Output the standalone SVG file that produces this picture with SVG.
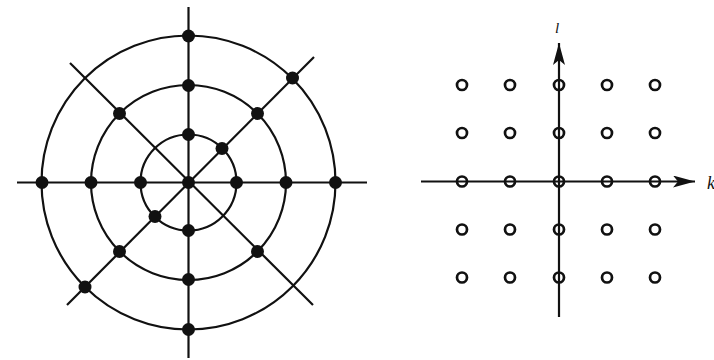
<svg xmlns="http://www.w3.org/2000/svg" width="714" height="360" viewBox="0 0 714 360">
<defs>
<style>
.ln{stroke:#111;stroke-width:2.2;fill:none}
.ring{stroke:#111;stroke-width:2.2;fill:none}
.dot{fill:#111}
.oc{fill:none;stroke:#111;stroke-width:2.7}
.lab{font-family:"Liberation Serif",serif;font-style:italic;fill:#111}
</style>
<marker id="ah" markerWidth="24" markerHeight="12" refX="22" refY="6" orient="auto" markerUnits="userSpaceOnUse" viewBox="0 0 24 12">
<path d="M0,0 L22,6 L0,12 L5,6 Z" fill="#111"/>
</marker>
</defs>
<rect width="714" height="360" fill="#fff"/>
<g id="connectors">
<line class="ln" x1="17" y1="182.5" x2="367" y2="182.5"/>
<line class="ln" x1="188.5" y1="7" x2="188.5" y2="358"/>
<line class="ln" x1="314" y1="57" x2="67" y2="305"/>
<line class="ln" x1="70" y1="63" x2="313" y2="305"/>
<line class="ln" x1="421" y1="181.5" x2="695" y2="181.5" marker-end="url(#ah)"/>
<line class="ln" x1="559" y1="317" x2="559" y2="43" marker-end="url(#ah)"/>
</g>
<g id="rings">
<circle class="ring" cx="188.5" cy="182.5" r="48"/>
<circle class="ring" cx="188.5" cy="182.5" r="97.5"/>
<circle class="ring" cx="188.5" cy="182.5" r="147"/>
</g>
<g id="polar-samples">
<circle class="dot" cx="188.5" cy="182.5" r="6.5"/>
<circle class="dot" cx="140.5" cy="182.5" r="6.5"/>
<circle class="dot" cx="236.5" cy="182.5" r="6.5"/>
<circle class="dot" cx="91" cy="182.5" r="6.5"/>
<circle class="dot" cx="286" cy="182.5" r="6.5"/>
<circle class="dot" cx="42" cy="182.5" r="6.5"/>
<circle class="dot" cx="335.5" cy="182.5" r="6.5"/>
<circle class="dot" cx="188.5" cy="134.5" r="6.5"/>
<circle class="dot" cx="188.5" cy="230.5" r="6.5"/>
<circle class="dot" cx="188.5" cy="85.5" r="6.5"/>
<circle class="dot" cx="188.5" cy="279.5" r="6.5"/>
<circle class="dot" cx="188.5" cy="36" r="6.5"/>
<circle class="dot" cx="188.5" cy="329.5" r="6.5"/>
<circle class="dot" cx="222" cy="148.5" r="6.5"/>
<circle class="dot" cx="155" cy="216.5" r="6.5"/>
<circle class="dot" cx="257.5" cy="113.5" r="6.5"/>
<circle class="dot" cx="119.5" cy="251.5" r="6.5"/>
<circle class="dot" cx="292.5" cy="78" r="6.5"/>
<circle class="dot" cx="85" cy="287" r="6.5"/>
<circle class="dot" cx="119.5" cy="113.5" r="6.5"/>
<circle class="dot" cx="257.5" cy="251.5" r="6.5"/>
</g>
<g id="grid-samples">
<circle class="oc" cx="462" cy="85" r="5"/>
<circle class="oc" cx="510" cy="85" r="5"/>
<circle class="oc" cx="559" cy="85" r="5"/>
<circle class="oc" cx="607" cy="85" r="5"/>
<circle class="oc" cx="655" cy="85" r="5"/>
<circle class="oc" cx="462" cy="133" r="5"/>
<circle class="oc" cx="510" cy="133" r="5"/>
<circle class="oc" cx="559" cy="133" r="5"/>
<circle class="oc" cx="607" cy="133" r="5"/>
<circle class="oc" cx="655" cy="133" r="5"/>
<circle class="oc" cx="462" cy="181.5" r="5"/>
<circle class="oc" cx="510" cy="181.5" r="5"/>
<circle class="oc" cx="559" cy="181.5" r="5"/>
<circle class="oc" cx="607" cy="181.5" r="5"/>
<circle class="oc" cx="655" cy="181.5" r="5"/>
<circle class="oc" cx="462" cy="229.5" r="5"/>
<circle class="oc" cx="510" cy="229.5" r="5"/>
<circle class="oc" cx="559" cy="229.5" r="5"/>
<circle class="oc" cx="607" cy="229.5" r="5"/>
<circle class="oc" cx="655" cy="229.5" r="5"/>
<circle class="oc" cx="462" cy="277.5" r="5"/>
<circle class="oc" cx="510" cy="277.5" r="5"/>
<circle class="oc" cx="559" cy="277.5" r="5"/>
<circle class="oc" cx="607" cy="277.5" r="5"/>
<circle class="oc" cx="655" cy="277.5" r="5"/>
</g>
<g id="labels">
<text class="lab" x="555" y="33" font-size="15">l</text>
<text class="lab" x="707" y="189" font-size="18">k</text>
</g>
</svg>
